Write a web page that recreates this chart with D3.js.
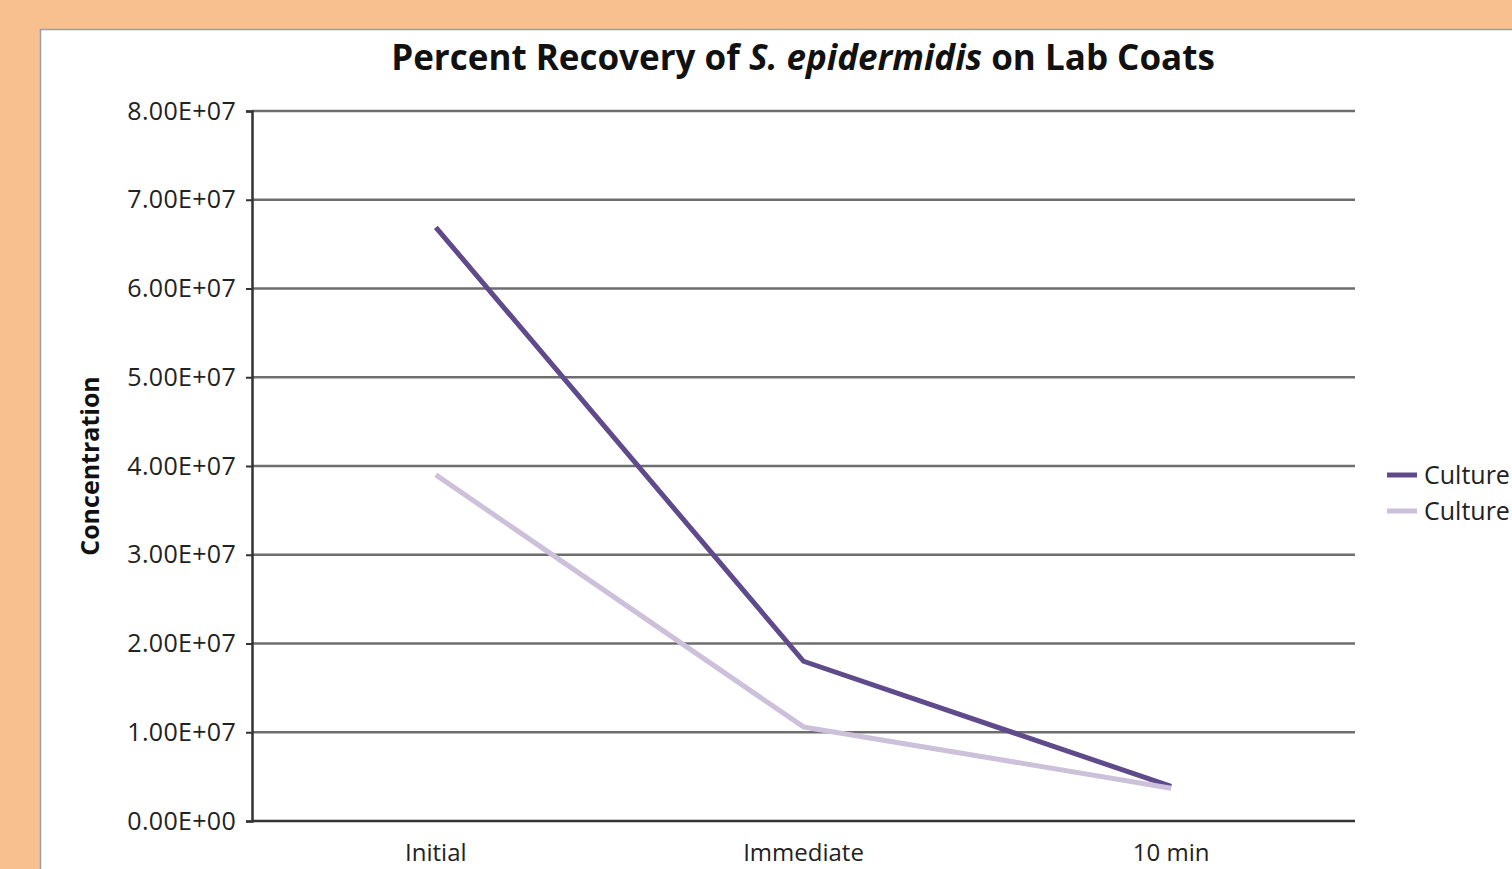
<!DOCTYPE html>
<html>
<head>
<meta charset="utf-8">
<script src="https://cdn.jsdelivr.net/npm/d3@7"></script>
<style>
  html, body { margin: 0; padding: 0; overflow: hidden; background: #f9c08f; }
  svg { display: block; }
</style>
</head>
<body>
<svg id="chart"></svg>
<script>
const width = 1512
const height = 869

const categories = ["Initial", "Immediate", "10 min"]
const seriesNames = ["Culture 1", "Culture 2"]
const culture1 = [6.69e7, 1.80e7, 3.9e6]
const culture2 = [3.90e7, 1.06e7, 3.7e6]
const yTicks = [0, 1e7, 2e7, 3e7, 4e7, 5e7, 6e7, 7e7, 8e7]
const colors = ["#5f4b8b", "#ccc0da"]

const plot = { left: 252, right: 1355, top: 111, bottom: 821 }
const font = "'Open Sans', 'Noto Sans', sans-serif"

const svg = d3.select("#chart")
    .attr("width", width)
    .attr("height", height)

// white chart panel
svg.append("rect")
    .attr("x", 40.5).attr("y", 29.5)
    .attr("width", width).attr("height", height)
    .attr("fill", "#fff")
    .attr("stroke", "#9a9ab4")
    .attr("stroke-width", 1.5)

const x = d3.scalePoint()
    .domain(categories)
    .range([plot.left, plot.right])
    .padding(0.5)

const y = d3.scaleLinear()
    .domain([0, 8e7])
    .range([plot.bottom, plot.top])

// gridlines
svg.append("g")
    .selectAll("line")
    .data(yTicks)
    .join("line")
    .attr("x1", plot.left).attr("x2", plot.right)
    .attr("y1", d => y(d)).attr("y2", d => y(d))
    .attr("stroke", d => d === 0 ? "#333" : "#6e6e6e")
    .attr("stroke-width", 2.5)

// y axis
const yAxis = svg.append("g")
    .attr("transform", `translate(${plot.left},0)`)
    .call(d3.axisLeft(y)
        .tickValues(yTicks)
        .tickSize(6)
        .tickPadding(10)
        .tickFormat(d => d.toExponential(2).toUpperCase().replace(/E([+-])(\d)$/, "E$10$2")))
yAxis.select(".domain").attr("stroke", "#333").attr("stroke-width", 2.5)
yAxis.selectAll(".tick line").attr("stroke", "#333").attr("stroke-width", 2)
yAxis.selectAll("text")
    .attr("font-family", font)
    .attr("font-size", 25)
    .attr("letter-spacing", 0.3)
    .attr("fill", "#222")

// x labels
svg.append("g")
    .selectAll("text")
    .data(categories)
    .join("text")
    .attr("x", d => x(d))
    .attr("y", 861)
    .attr("text-anchor", "middle")
    .attr("font-family", font)
    .attr("font-size", 24)
    .attr("fill", "#222")
    .text(d => d)

// y title
svg.append("text")
    .attr("transform", "translate(99,466) rotate(-90)")
    .attr("text-anchor", "middle")
    .attr("font-family", font)
    .attr("font-weight", "bold")
    .attr("font-size", 25)
    .attr("fill", "#111")
    .text("Concentration")

// chart title
const title = svg.append("text")
    .attr("x", 803)
    .attr("y", 70)
    .attr("text-anchor", "middle")
    .attr("font-family", font)
    .attr("font-weight", "bold")
    .attr("font-size", 35)
    .attr("fill", "#111")
title.append("tspan").text("Percent Recovery of ")
title.append("tspan").attr("font-style", "italic").text("S. epidermidis")
title.append("tspan").text(" on Lab Coats")

// lines
const line = d3.line()
    .x((d, i) => x(categories[i]))
    .y(d => y(d))

const series = [culture1, culture2]
svg.append("g")
    .selectAll("path")
    .data(series)
    .join("path")
    .attr("d", d => line(d))
    .attr("fill", "none")
    .attr("stroke", (d, i) => colors[i])
    .attr("stroke-width", 5)
    .attr("stroke-linejoin", "round")

// legend
const legend = svg.append("g")
    .selectAll("g")
    .data(seriesNames)
    .join("g")
    .attr("transform", (d, i) => `translate(1387,${475 + i * 36})`)
legend.append("line")
    .attr("x1", 0).attr("x2", 30)
    .attr("stroke", (d, i) => colors[i])
    .attr("stroke-width", 5)
legend.append("text")
    .attr("x", 37)
    .attr("dy", "0.35em")
    .attr("font-family", font)
    .attr("font-size", 25)
    .attr("fill", "#222")
    .text(d => d)
</script>
</body>
</html>
